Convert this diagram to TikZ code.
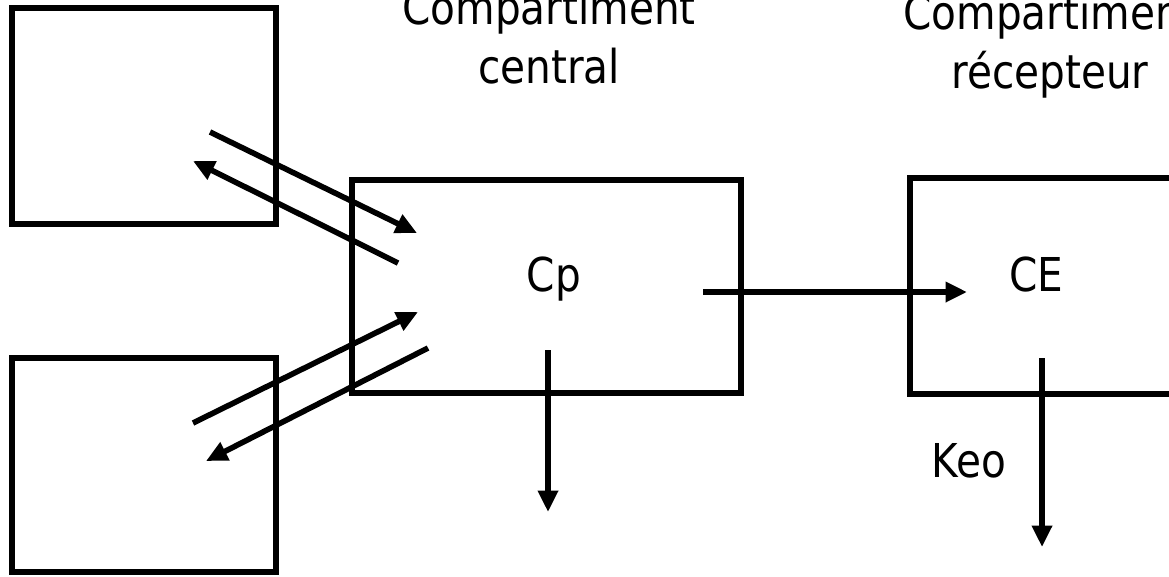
\documentclass[tikz,border=0pt]{standalone}
\usepackage{fontspec}
\setmainfont{DejaVu Sans}[FakeStretch=0.87]
\usetikzlibrary{arrows.meta}

\begin{document}
\begin{tikzpicture}[
    x=0.75pt, y=-0.75pt,
    box/.style={rectangle, draw, line width=4.2pt, inner sep=0pt, outer sep=0pt},
    arrow/.style={-{Triangle[length=16pt, width=14.5pt]}, line width=4.2pt},
    boxlabel/.style={font=\fontsize{35}{44}\selectfont, inner sep=0pt},
    titlelabel/.style={font=\fontsize{35}{44}\selectfont, align=center, inner sep=0pt}
]
\useasboundingbox (0,0) rectangle (1169,576);
\clip (0,0) rectangle (1169,576);

% compartments
\node[box, minimum width=198pt, minimum height=162pt] (periph-top) at (144,116) {};
\node[box, minimum width=198pt, minimum height=160.5pt] (periph-bot) at (144,465) {};
\node[box, minimum width=291.75pt, minimum height=159.75pt] (central) at (546.5,286.5) {};
\node[box, minimum width=232.5pt, minimum height=162pt] (recept) at (1065,286) {};

% labels
\node[titlelabel, anchor=base] (central-title) at (549,83) {Compartiment\\central};
\node[titlelabel, anchor=base] (recept-title) at (1050,88) {Compartiment\\récepteur};
\node[boxlabel, anchor=base] (cp) at (554,291) {Cp};
\node[boxlabel, anchor=base] (ce) at (1036,291) {CE};
\node[boxlabel, anchor=base] (keo) at (969,477) {Keo};

% exchange with peripheral compartments
\coordinate (top-out-s) at (210,132);
\coordinate (top-out-e) at (417,233);
\coordinate (top-back-s) at (398,263);
\coordinate (top-back-e) at (193,161);
\coordinate (bot-out-s) at (193,423);
\coordinate (bot-out-e) at (418,312);
\coordinate (bot-back-s) at (428,348);
\coordinate (bot-back-e) at (206,461);

\draw[arrow] (top-out-s) -- (top-out-e);
\draw[arrow] (top-back-s) -- (top-back-e);
\draw[arrow] (bot-out-s) -- (bot-out-e);
\draw[arrow] (bot-back-s) -- (bot-back-e);

% transfer and elimination
\coordinate (flow-s) at (703,292);
\coordinate (flow-e) at (967,292);
\coordinate (cp-elim-s) at (548,350);
\coordinate (cp-elim-e) at (548,512);
\coordinate (ce-elim-s) at (1042,358);
\coordinate (ce-elim-e) at (1042,547);

\draw[arrow] (flow-s) -- (flow-e);
\draw[arrow] (cp-elim-s) -- (cp-elim-e);
\draw[arrow] (ce-elim-s) -- (ce-elim-e);

\end{tikzpicture}
\end{document}
